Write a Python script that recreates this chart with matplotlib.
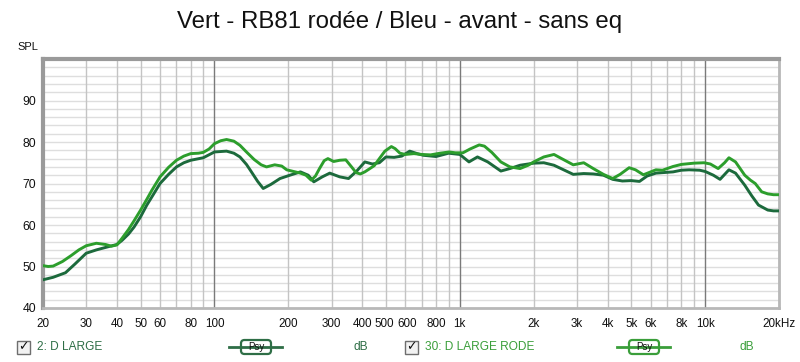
"""
plot.py - REW style frequency response, RB81 rodée vs avant
"""
import matplotlib
matplotlib.use("Agg")
import matplotlib.pyplot as plt
import matplotlib.transforms as mtrans
from matplotlib.patches import FancyBboxPatch, Rectangle
from matplotlib.lines import Line2D

# 2: D LARGE (dark green, "avant")
freq_large = [20, 22, 24.7, 27, 30, 33, 36, 40, 42, 44.6, 47, 50, 53, 55.6, 60, 65, 70, 75,
              80, 90, 100, 112, 120, 127, 135, 140, 150, 158, 170, 185, 203, 224, 241, 254,
              275, 295, 324, 352, 380, 410, 440, 470, 500, 540, 580, 625, 670, 710, 800,
              900, 1000, 1090, 1180, 1300, 1470, 1600, 1760, 2000, 2200, 2420, 2900, 3200,
              3500, 3850, 4200, 4600, 5000, 5400, 5800, 6300, 7400, 8000, 8600, 9500, 10000,
              10800, 11500, 12500, 13300, 14500, 15500, 16500, 18000, 19000, 20000]
spl_large = [46.8, 47.4, 48.5, 50.6, 53.2, 54.0, 54.6, 55.3, 56.3, 57.8, 59.5, 62.0, 64.8,
             66.8, 70.0, 72.2, 74.0, 75.0, 75.6, 76.2, 77.6, 77.8, 77.3, 76.4, 74.6, 73.2,
             70.5, 68.8, 69.8, 71.2, 72.0, 72.8, 72.0, 70.4, 71.6, 72.5, 71.6, 71.2, 73.0,
             75.2, 74.7, 75.0, 76.4, 76.3, 76.6, 77.8, 77.2, 76.8, 76.5, 77.3, 77.0, 75.2,
             76.4, 75.2, 73.0, 73.6, 74.4, 74.9, 75.0, 74.4, 72.2, 72.4, 72.3, 72.0, 71.0,
             70.6, 70.7, 70.5, 71.8, 72.5, 72.8, 73.2, 73.3, 73.2, 72.9, 72.0, 71.0, 73.3,
             72.5, 69.6, 67.0, 64.8, 63.6, 63.4, 63.4]

# 30: D LARGE RODE (light green, "rodée")
freq_rode = [20, 21, 22, 24, 26, 28, 30, 33, 36, 38, 40, 42, 44.6, 47, 50, 53, 55.6, 60, 65,
             70, 75, 80, 86, 90, 95, 100, 106, 112, 120, 127, 135, 145, 155, 163, 176, 188,
             197, 210, 224, 236, 248, 258, 268, 280, 290, 306, 324, 343, 362, 378, 393, 410,
             430, 448, 470, 495, 526, 545, 570, 600, 650, 700, 760, 830, 905, 960, 1030,
             1100, 1200, 1260, 1350, 1470, 1600, 1760, 1900, 2000, 2200, 2420, 2600, 2900,
             3200, 3500, 3850, 4200, 4500, 4900, 5200, 5600, 6000, 6300, 6700, 7400, 8000,
             9000, 9900, 10500, 11300, 12000, 12500, 13300, 14500, 15300, 16000, 17000,
             18000, 19000, 20000]
spl_rode = [50.2, 50.0, 50.1, 51.2, 52.6, 54.0, 55.0, 55.6, 55.3, 54.9, 55.2, 56.8, 58.9,
            61.0, 63.6, 66.2, 68.4, 71.6, 73.9, 75.6, 76.6, 77.2, 77.3, 77.5, 78.3, 79.6,
            80.3, 80.6, 80.2, 79.2, 77.6, 75.8, 74.5, 74.0, 74.5, 74.2, 73.3, 72.9, 72.5,
            72.0, 70.8, 71.8, 73.6, 75.5, 76.0, 75.3, 75.6, 75.7, 74.0, 72.6, 72.3, 72.8,
            73.6, 74.3, 76.0, 77.8, 78.9, 78.4, 77.3, 77.0, 77.2, 77.0, 76.9, 77.3, 77.6,
            77.4, 77.4, 78.3, 79.3, 79.0, 77.5, 75.2, 74.0, 73.6, 74.4, 75.2, 76.4, 77.0,
            76.0, 74.5, 75.0, 73.6, 72.2, 71.2, 72.2, 73.8, 73.3, 72.1, 72.8, 73.3, 73.2,
            74.1, 74.6, 74.9, 75.0, 74.7, 73.6, 75.0, 76.2, 75.2, 72.0, 70.8, 70.0, 68.0,
            67.5, 67.3, 67.3]

x_ticks = [20, 30, 40, 50, 60, 80, 100, 200, 300, 400, 500, 600, 800, 1000, 2000, 3000,
           4000, 5000, 6000, 8000, 10000, 20000]
x_labels = ["20", "30", "40", "50", "60", "80", "100", "200", "300", "400", "500", "600",
            "800", "1k", "2k", "3k", "4k", "5k", "6k", "8k", "10k", "20kHz"]
y_ticks = [40, 50, 60, 70, 80, 90]

DARK = "#1c6a3c"
LIGHT = "#2c9e2c"

plt.rcParams["font.family"] = ["Liberation Sans", "DejaVu Sans"]

fig = plt.figure(figsize=(8, 3.62), dpi=100)
ax = fig.add_axes([43 / 800, 1 - 308 / 362, (779 - 43) / 800, (308 - 59) / 362])

ax.set_xscale("log")
ax.set_xlim(20, 20000)
ax.set_ylim(40, 100)

# grid: minor every 2 dB, light x minors, darker decades
for v in range(42, 100, 2):
    ax.axhline(v, color="#dedede", lw=1, zorder=1)
minor_x = [f * d for d in (10, 100, 1000) for f in range(2, 10)] + [20000]
for f in minor_x:
    if 20 <= f <= 20000:
        ax.axvline(f, color="#c4c4c4", lw=1, zorder=1)
for f in (100, 1000, 10000):
    ax.axvline(f, color="#7a7a7a", lw=1, zorder=1)

ax.plot(freq_large, spl_large, color=DARK, lw=2.1, solid_joinstyle="round",
        solid_capstyle="round", zorder=3)
ax.plot(freq_rode, spl_rode, color=LIGHT, lw=2.1, solid_joinstyle="round",
        solid_capstyle="round", zorder=4)

ax.set_xticks(x_ticks)
ax.set_xticklabels(x_labels)
ax.xaxis.set_minor_locator(matplotlib.ticker.NullLocator())
ax.set_yticks(y_ticks)
ax.tick_params(length=0, labelsize=8.8, colors="#111111", pad=7)
ax.tick_params(axis="x", labelsize=8.4)
ax.tick_params(axis="y", pad=5)

# the 500 / 600 labels sit very close, nudge them apart a little like REW does
for lab in ax.get_xticklabels():
    shift = {"500": -2, "600": 1.5}.get(lab.get_text(), 0)
    if shift:
        lab.set_transform(lab.get_transform() +
                          mtrans.ScaledTranslation(shift / 100, 0, fig.dpi_scale_trans))

for side in ("left", "top"):
    ax.spines[side].set_color("#9a9a9a")
    ax.spines[side].set_linewidth(3)
for side in ("right", "bottom"):
    ax.spines[side].set_color("#b8b8b8")
    ax.spines[side].set_linewidth(2)

fig.text(0.5, 1 - 22 / 362, "Vert - RB81 rodée / Bleu - avant - sans eq",
         ha="center", va="center", fontsize=17.3, color="#111111")
fig.text(17 / 800, 1 - 47 / 362, "SPL", ha="left", va="center", fontsize=8, color="#111111")

# pixel-based transform for the legend widgets (1 px = 0.01 in)
px = fig.dpi_scale_trans


def legend_entry(x0, label, color, psy_x, db_x):
    """Draw one REW legend row: checkbox, label, Psy box, units."""
    yc = (362 - 347) / 100
    fig.patches.append(Rectangle((x0 / 100, yc - 0.065), 0.13, 0.13, transform=px,
                                 facecolor="#f2f2f2", edgecolor="#6e6e6e", lw=1))
    fig.text((x0 + 6.5) / 100, yc, "✓", ha="center", va="center", fontsize=9,
             color="#111111", family=["DejaVu Sans"], transform=px)
    fig.text((x0 + 20) / 100, yc, label, ha="left", va="center", fontsize=8.6,
             color=color, transform=px)
    fig.lines.append(Line2D([psy_x / 100, (psy_x + 53) / 100], [yc, yc],
                            transform=px, color=color, lw=2))
    fig.patches.append(FancyBboxPatch(((psy_x + 12) / 100, yc - 0.07), 0.30, 0.14,
                                      boxstyle="round,pad=0,rounding_size=0.035",
                                      transform=px, facecolor="white",
                                      edgecolor=color, lw=1.6))
    fig.text((psy_x + 27) / 100, yc, "Psy", ha="center", va="center", fontsize=7,
             color="#111111", transform=px)
    fig.text(db_x / 100, yc, "dB", ha="left", va="center", fontsize=8.6, color=color,
             transform=px)


legend_entry(17, "2: D LARGE", "#2e6e46", 229, 353)
legend_entry(405, "30: D LARGE RODE", "#3a9e3a", 617, 740)

fig.savefig("out.png", dpi=100)
